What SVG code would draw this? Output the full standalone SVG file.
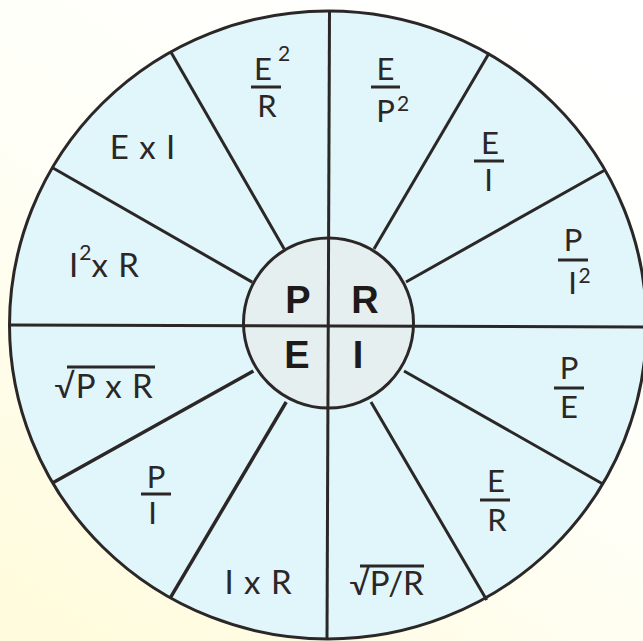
<svg xmlns="http://www.w3.org/2000/svg" width="643" height="641" viewBox="0 0 643 641">
<defs>
<linearGradient id="bg" x1="0.75" y1="0" x2="0.1" y2="1">
<stop offset="0" stop-color="#ffffff"/>
<stop offset="0.45" stop-color="#fffff8"/>
<stop offset="1" stop-color="#fffbdc"/>
</linearGradient>
<style>
.ln{stroke:#2b2727;stroke-width:3;fill:none;stroke-linecap:butt}
.lbl{font-family:Lato,"Open Sans","Liberation Sans",sans-serif;font-size:33px;fill:#2b2727;text-anchor:middle}
.fr{font-size:31px}
.wide{letter-spacing:1px}
.sup{font-size:21px;letter-spacing:0}
.ctr{font-family:"Liberation Sans",Arial,sans-serif;font-weight:bold;font-size:38px;fill:#1e1a1a;text-anchor:middle}
.bar{stroke:#2b2727;stroke-width:3}
</style>
</defs>
<rect width="643" height="641" fill="url(#bg)"/>
<g id="wheel">
<ellipse cx="328" cy="325" rx="318.5" ry="314" fill="#e1f6fa" stroke="#2b2727" stroke-width="3"/>
</g>
<g id="connectors">
<line class="ln" x1="284.2" y1="248.9" x2="170.7" y2="51.7"/>
<line class="ln" x1="252.2" y1="282.1" x2="53" y2="168"/>
<line class="ln" x1="374" y1="249" x2="489.3" y2="52.7"/>
<line class="ln" x1="406" y1="282" x2="605" y2="170"/>
<line class="ln" x1="404" y1="371" x2="603.3" y2="484.3"/>
<line class="ln" x1="371" y1="402" x2="486.7" y2="600"/>
<line class="ln" x1="286.2" y1="402" x2="170" y2="598.3" style="stroke-width:3.5"/>
<line class="ln" x1="253.4" y1="371" x2="53.3" y2="482.5" style="stroke-width:3.5"/>
</g>
<g id="hub">
<circle cx="328.5" cy="323" r="85" fill="#e6eff0" stroke="#2b2727" stroke-width="3"/>
</g>
<g id="axes">
<line class="ln" x1="329.5" y1="11" x2="327" y2="639.5"/>
<line class="ln" x1="9.5" y1="325" x2="643" y2="327"/>
</g>
<g id="node-P"><text class="ctr" x="298" y="312.7">P</text></g>
<g id="node-R"><text class="ctr" x="365" y="312.7">R</text></g>
<g id="node-E"><text class="ctr" x="297" y="368.3">E</text></g>
<g id="node-I"><text class="ctr" x="358" y="368.3">I</text></g>
<g id="label-E2R">
<text class="lbl fr" x="263" y="80">E</text>
<text class="lbl sup" x="284" y="61">2</text>
<line class="bar" x1="251" y1="87" x2="281" y2="87"/>
<text class="lbl fr" x="267" y="117">R</text>
</g>
<g id="label-EP2">
<text class="lbl fr" x="385.5" y="80">E</text>
<line class="bar" x1="371" y1="87" x2="400" y2="87"/>
<text class="lbl fr" x="385.5" y="122">P</text>
<text class="lbl sup" x="403" y="111">2</text>
</g>
<g id="label-ExI"><text class="lbl wide" x="143" y="159">E x I</text></g>
<g id="label-EI">
<text class="lbl fr" x="490" y="154">E</text>
<line class="bar" x1="474" y1="161" x2="504" y2="161"/>
<text class="lbl fr" x="488.5" y="191">I</text>
</g>
<g id="label-I2xR"><text class="lbl wide" x="104.5" y="277">I<tspan class="sup" dy="-17">2</tspan><tspan dy="17">x R</tspan></text></g>
<g id="label-PI2">
<text class="lbl fr" x="573" y="251">P</text>
<line class="bar" x1="558" y1="260" x2="588" y2="260"/>
<text class="lbl fr" x="572.5" y="294">I</text>
<text class="lbl sup" x="584.5" y="283">2</text>
</g>
<g id="label-sqrtPxR">
<text class="lbl wide" x="104" y="398">√P x R</text>
<line class="bar" x1="67" y1="367" x2="155" y2="367"/>
</g>
<g id="label-PE">
<text class="lbl fr" x="569" y="379">P</text>
<line class="bar" x1="554" y1="388" x2="584" y2="388"/>
<text class="lbl fr" x="569" y="418">E</text>
</g>
<g id="label-PI">
<text class="lbl fr" x="156" y="488">P</text>
<line class="bar" x1="141" y1="494" x2="171" y2="494"/>
<text class="lbl fr" x="152.5" y="524">I</text>
</g>
<g id="label-ER">
<text class="lbl fr" x="496" y="492">E</text>
<line class="bar" x1="480" y1="500" x2="510" y2="500"/>
<text class="lbl fr" x="497" y="531">R</text>
</g>
<g id="label-IxR"><text class="lbl wide" x="258.5" y="594">I x R</text></g>
<g id="label-sqrtPR">
<text class="lbl" x="386.5" y="595">√P/R</text>
<line class="bar" x1="360" y1="566" x2="424" y2="566"/>
</g>
</svg>
